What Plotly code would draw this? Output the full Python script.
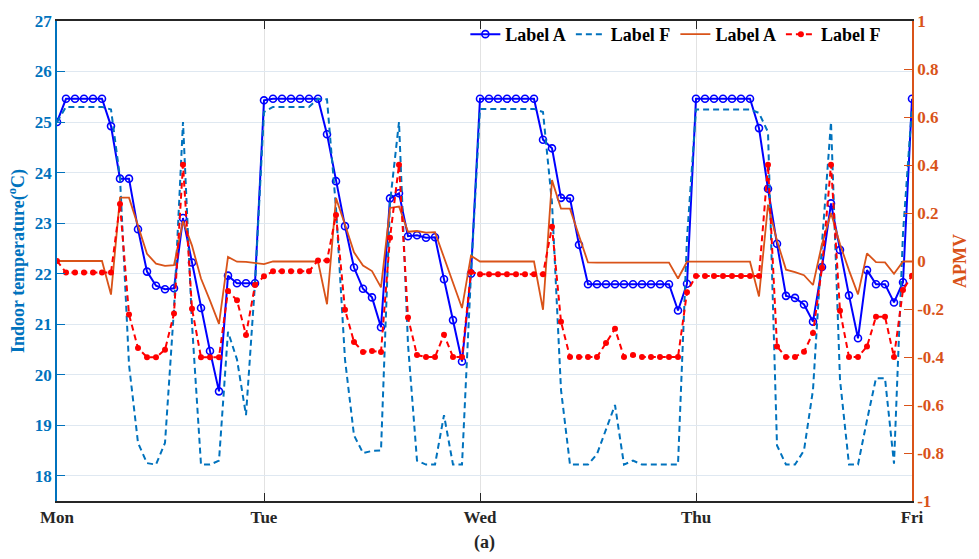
import plotly.graph_objects as go

# ---------------- data ----------------
hours = list(range(1, 97))
day_ticks = [1, 24, 48, 72, 96]
day_labels = ["Mon", "Tue", "Wed", "Thu", "Fri"]
temp_ticks = [18, 19, 20, 21, 22, 23, 24, 25, 26, 27]
apmv_ticks = [-1, -0.8, -0.6, -0.4, -0.2, 0, 0.2, 0.4, 0.6, 0.8, 1]
apmv_labels = ["-1", "-0.8", "-0.6", "-0.4", "-0.2", "0", "0.2", "0.4", "0.6", "0.8", "1"]

# Indoor temperature, Label A (solid blue, circles)
temp_A = [
    25.00, 25.46, 25.46, 25.46, 25.46, 25.46, 24.92, 23.88, 23.88, 22.88,
    22.04, 21.76, 21.69, 21.71, 23.10, 22.22, 21.32, 20.47, 19.67, 21.96,
    21.81, 21.81, 21.81, 25.43, 25.46, 25.46, 25.46, 25.46, 25.46, 25.46,
    24.76, 23.83, 22.94, 22.12, 21.70, 21.53, 20.94, 23.49, 23.59, 22.74,
    22.76, 22.71, 22.72, 21.89, 21.08, 20.26, 22.00, 25.46, 25.46, 25.46,
    25.46, 25.46, 25.46, 25.46, 24.65, 24.48, 23.50, 23.49, 22.57, 21.79,
    21.79, 21.79, 21.79, 21.79, 21.79, 21.79, 21.79, 21.79, 21.79, 21.27,
    21.80, 25.46, 25.46, 25.46, 25.46, 25.46, 25.46, 25.46, 24.88, 23.68,
    22.59, 21.56, 21.52, 21.39, 21.05, 22.13, 23.39, 22.47, 21.57, 20.72,
    22.07, 21.79, 21.79, 21.43, 21.83, 25.46,
]

# Indoor temperature, Label F (dashed)
temp_F = [
    25.00, 25.30, 25.30, 25.30, 25.30, 25.30, 25.25, 23.90, 20.20, 18.65,
    18.25, 18.22, 18.65, 21.30, 25.00, 21.00, 18.22, 18.22, 18.30, 20.85,
    20.30, 19.20, 21.80, 25.20, 25.30, 25.30, 25.30, 25.30, 25.30, 25.46,
    25.45, 23.30, 20.30, 18.80, 18.45, 18.49, 18.50, 23.40, 25.00, 20.60,
    18.30, 18.22, 18.22, 19.20, 18.22, 18.22, 22.00, 25.26, 25.26, 25.26,
    25.26, 25.26, 25.26, 25.26, 25.20, 23.40, 19.70, 18.22, 18.22, 18.22,
    18.43, 18.92, 19.40, 18.22, 18.30, 18.22, 18.22, 18.22, 18.22, 18.22,
    22.70, 25.25, 25.25, 25.25, 25.25, 25.25, 25.25, 25.25, 25.18, 24.80,
    18.60, 18.22, 18.22, 18.50, 19.70, 22.60, 25.00, 19.90, 18.22, 18.22,
    19.10, 19.93, 19.93, 18.24, 22.80, 25.30,
]

# APMV, Label A (solid orange)
apmv_A = [
    0.000, 0.000, 0.000, 0.000, 0.000, 0.000, -0.140, 0.264, 0.264, 0.145,
    0.030, -0.011, -0.020, -0.017, 0.166, 0.064, -0.073, -0.165, -0.262, 0.017,
    -0.003, -0.004, -0.007, -0.013, -0.002, -0.002, -0.002, -0.002, -0.002, -0.002,
    -0.180, 0.262, 0.152, 0.036, -0.019, -0.042, -0.110, 0.221, 0.227, 0.122,
    0.125, 0.118, 0.120, 0.016, -0.094, -0.196, 0.022, -0.002, -0.002, -0.002,
    -0.002, -0.002, -0.002, -0.002, -0.203, 0.337, 0.218, 0.218, 0.105, -0.006,
    -0.007, -0.007, -0.007, -0.007, -0.007, -0.007, -0.007, -0.007, -0.007, -0.073,
    -0.003, -0.003, -0.003, -0.003, -0.003, -0.003, -0.003, -0.003, -0.148, 0.235,
    0.084, -0.036, -0.046, -0.059, -0.100, 0.070, 0.200, 0.070, -0.039, -0.139,
    0.032, -0.005, -0.006, -0.053, -0.002, -0.002,
]

# APMV, Label F (red dashed, dots)
apmv_F = [
    0.000, -0.048, -0.048, -0.048, -0.048, -0.048, -0.048, 0.237, -0.223, -0.363,
    -0.401, -0.401, -0.370, -0.219, 0.401, -0.199, -0.401, -0.401, -0.401, -0.125,
    -0.164, -0.308, -0.100, -0.064, -0.043, -0.043, -0.043, -0.043, -0.043, 0.002,
    0.002, 0.192, -0.203, -0.337, -0.379, -0.375, -0.379, 0.097, 0.401, -0.235,
    -0.392, -0.400, -0.400, -0.307, -0.400, -0.400, -0.046, -0.055, -0.055, -0.055,
    -0.055, -0.055, -0.055, -0.055, -0.055, 0.143, -0.253, -0.400, -0.400, -0.400,
    -0.400, -0.342, -0.282, -0.400, -0.392, -0.400, -0.400, -0.400, -0.400, -0.400,
    -0.130, -0.062, -0.062, -0.062, -0.062, -0.062, -0.062, -0.062, -0.062, 0.401,
    -0.356, -0.400, -0.400, -0.378, -0.300, -0.028, 0.401, -0.207, -0.400, -0.400,
    -0.356, -0.232, -0.232, -0.400, -0.121, -0.061,
]

BLUE = "#0000FF"
MBLUE = "#0072BD"
ORANGE = "#D95319"
RED = "#FF0000"
FONT = "Liberation Serif"

fig = go.Figure()
fig.add_trace(go.Scatter(
    x=hours, y=temp_A, name="Label A", mode="lines+markers",
    line=dict(color=BLUE, width=2),
    marker=dict(symbol="circle-open", size=7, color=BLUE, line=dict(width=1.6)),
))
fig.add_trace(go.Scatter(
    x=hours, y=temp_F, name="Label F", mode="lines",
    line=dict(color=MBLUE, width=2, dash="6px,4px"),
))
fig.add_trace(go.Scatter(
    x=hours, y=apmv_A, name="Label A", mode="lines", yaxis="y2",
    line=dict(color=ORANGE, width=1.8),
))
fig.add_trace(go.Scatter(
    x=hours, y=apmv_F, name="Label F", mode="lines+markers", yaxis="y2",
    line=dict(color=RED, width=2, dash="6px,4px"),
    marker=dict(symbol="circle", size=6, color=RED),
))

fig.update_layout(
    width=979, height=559, autosize=False,
    margin=dict(l=57, r=62, t=13, b=58),
    paper_bgcolor="white", plot_bgcolor="white",
    font=dict(family=FONT, size=17, color="black", weight="bold"),
    showlegend=True,
    legend=dict(
        orientation="h", x=0.97, y=0.972, xanchor="right", yanchor="middle",
        bgcolor="rgba(0,0,0,0)", font=dict(family=FONT, size=18, color="black", weight="bold"),
        itemwidth=30, tracegroupgap=0,
    ),
    xaxis=dict(
        range=[1, 96], tickvals=day_ticks, ticktext=day_labels,
        ticks="inside", ticklen=8, tickcolor="#262626", tickwidth=1,
        showline=True, linecolor="#262626", linewidth=1.5, mirror="ticks",
        showgrid=True, gridcolor="#e2e2e2", gridwidth=1, zeroline=False,
        tickfont=dict(family=FONT, size=17, color="#262626", weight="bold"),
    ),
    yaxis=dict(
        range=[17.5, 27], tickvals=temp_ticks,
        ticks="inside", ticklen=8, tickcolor=MBLUE, tickwidth=1,
        showline=True, linecolor=MBLUE, linewidth=1.5,
        showgrid=True, gridcolor="#dfe8f1", gridwidth=1, zeroline=False,
        tickfont=dict(family=FONT, size=17, color=MBLUE, weight="bold"),
        title=dict(text="Indoor temperature(<sup>o</sup>C)", standoff=6,
                   font=dict(family=FONT, size=18, color=MBLUE, weight="bold")),
    ),
    yaxis2=dict(
        overlaying="y", side="right", range=[-1, 1],
        tickvals=apmv_ticks, ticktext=apmv_labels,
        ticks="inside", ticklen=8, tickcolor=ORANGE, tickwidth=1,
        showline=True, linecolor=ORANGE, linewidth=1.5,
        showgrid=False, zeroline=False,
        tickfont=dict(family=FONT, size=17, color=ORANGE, weight="bold"),
        title=dict(text="APMV", standoff=10,
                   font=dict(family=FONT, size=18, color=ORANGE, weight="bold")),
    ),
    annotations=[dict(
        text="(a)", x=0.5, y=-0.086, xref="paper", yref="paper",
        xanchor="center", yanchor="middle", showarrow=False,
        font=dict(family=FONT, size=18, color="#262626", weight="bold"),
    )],
)

fig.write_html("out.html")
